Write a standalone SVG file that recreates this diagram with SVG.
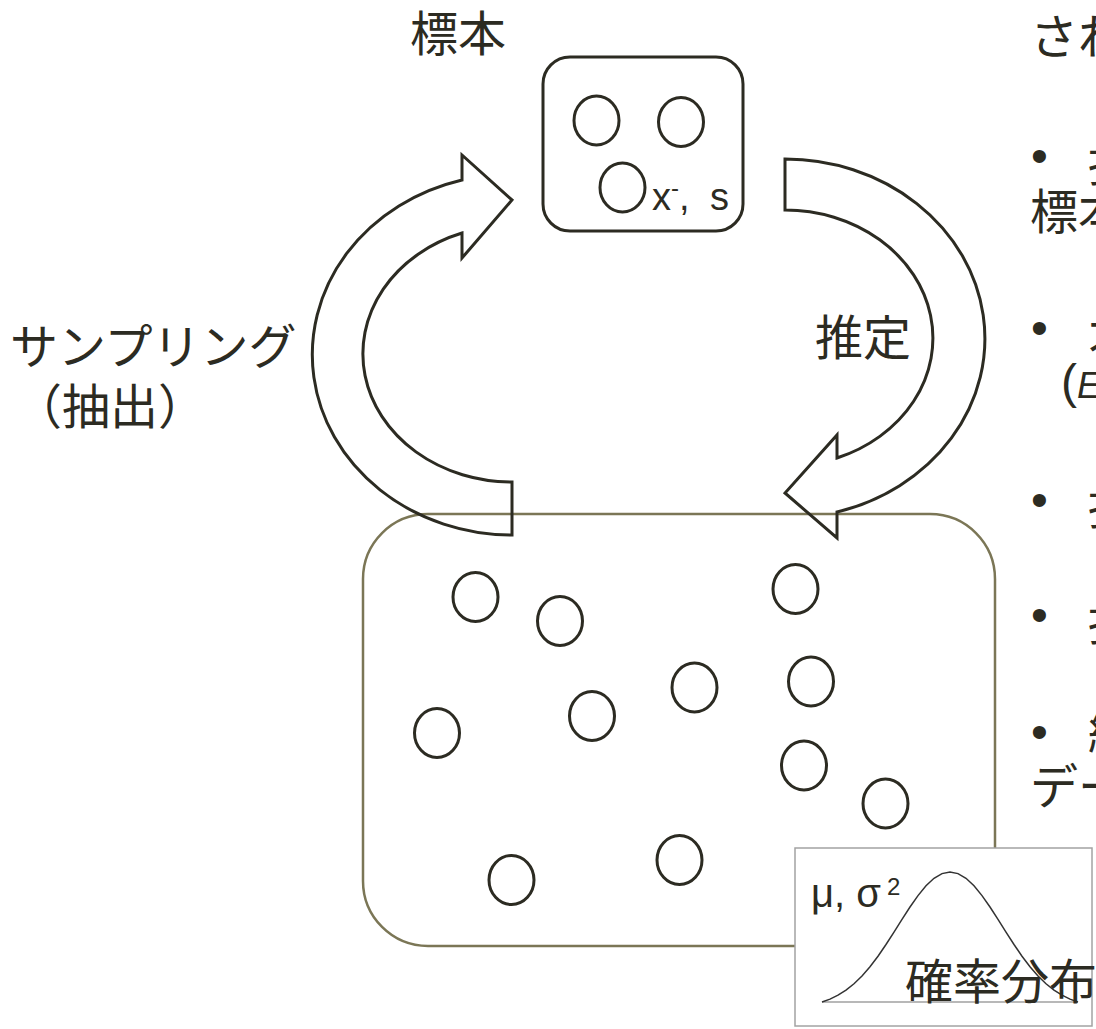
<svg xmlns="http://www.w3.org/2000/svg" width="1096" height="1029" viewBox="0 0 1096 1029">
<style>
.jp{font-family:"Noto Sans CJK JP","Noto Sans",sans-serif;font-size:48px;fill:#2c2b22}
.lat{font-family:"Liberation Sans","Noto Sans",sans-serif;fill:#2c2b22}
.dot{fill:none;stroke:#2c2b22;stroke-width:3}
.arrow{fill:none;stroke:#2c2b22;stroke-width:3;stroke-linejoin:miter}
</style>
<rect width="1096" height="1029" fill="#ffffff"/>

<g id="population">
  <rect x="363" y="514" width="632" height="432" rx="65" ry="65" fill="none" stroke="#7b7656" stroke-width="2.5"/>
  <ellipse class="dot" cx="475.5" cy="597" rx="22.5" ry="24.5"/>
  <ellipse class="dot" cx="560" cy="621" rx="22.5" ry="24.5"/>
  <ellipse class="dot" cx="795.5" cy="589" rx="22.5" ry="24.5"/>
  <ellipse class="dot" cx="694.5" cy="687.5" rx="22.5" ry="24.5"/>
  <ellipse class="dot" cx="811" cy="681.5" rx="22.5" ry="24.5"/>
  <ellipse class="dot" cx="437" cy="733" rx="22.5" ry="24.5"/>
  <ellipse class="dot" cx="592" cy="716" rx="22.5" ry="24.5"/>
  <ellipse class="dot" cx="804" cy="765.5" rx="22.5" ry="24.5"/>
  <ellipse class="dot" cx="885.5" cy="803.5" rx="22.5" ry="24.5"/>
  <ellipse class="dot" cx="511.5" cy="880" rx="22.5" ry="24.5"/>
  <ellipse class="dot" cx="679.5" cy="860" rx="22.5" ry="24.5"/>
</g>

<g id="sample">
  <text class="jp" x="410" y="51">標本</text>
  <rect x="543" y="57" width="200" height="174" rx="27" ry="27" fill="none" stroke="#2c2b22" stroke-width="3"/>
  <ellipse class="dot" cx="596.5" cy="120.5" rx="22.5" ry="24.5"/>
  <ellipse class="dot" cx="681" cy="122" rx="22.5" ry="24.5"/>
  <ellipse class="dot" cx="622.5" cy="187.5" rx="22.5" ry="24.5"/>
  <text class="lat" x="652" y="210" font-size="38">x<tspan font-size="24" dy="-14">-</tspan><tspan dy="14">,</tspan><tspan x="710">s</tspan></text>
</g>

<g id="connectors">
  <path id="arrow-sampling" class="arrow" d="M462,180 L462,155 L512,200 L462,258 L462,233 A149,128.2 0 0 0 512,482 L512,535 A200,180.4 0 0 1 462,180 Z"/>
  <path id="arrow-estimation" class="arrow" d="M785,159 A200,179.6 0 0 1 837,512 L837,538 L785,493 L837,435 L837,458 A148,128.1 0 0 0 785,210 Z"/>
  <text class="jp" x="10" y="364">サンプリング</text>
  <text class="jp" x="14" y="424">（抽出）</text>
  <text class="jp" x="815" y="355">推定</text>
</g>

<g id="distribution">
  <rect x="795" y="848" width="297" height="178" fill="#ffffff" stroke="#a3a3a3" stroke-width="1.5"/>
  <line x1="822" y1="1002" x2="1078" y2="1002" stroke="#b8b8b8" stroke-width="2"/>
  <path d="M822,1002 L830,999.1 L838,995.2 L846,990.1 L854,983.8 L862,976 L870,966.8 L878,956.2 L886,944.5 L894,932.1 L902,919.4 L910,907 L918,895.6 L926,885.8 L934,878.3 L942,873.6 L950,872 L958,873.6 L966,878.3 L974,885.8 L982,895.6 L990,907 L998,919.4 L1006,932.1 L1014,944.5 L1022,956.2 L1030,966.8 L1038,976 L1046,983.8 L1054,990.1 L1062,995.2 L1070,999.1 L1078,1002" fill="none" stroke="#333333" stroke-width="1.5"/>
  <text class="lat" x="811" y="907" font-size="40">μ, σ</text>
  <text class="lat" x="887" y="895" font-size="24">2</text>
  <text class="jp" x="905" y="999">確率分布</text>
</g>

<g id="side-text">
  <text class="jp" x="1030" y="54">され</text>
  <text class="lat" x="1031" y="172" font-size="48">•</text>
  <text class="jp" x="1088" y="181">推</text>
  <text class="jp" x="1030" y="229">標本</text>
  <text class="lat" x="1031" y="344" font-size="48">•</text>
  <text class="jp" x="1088" y="360">不</text>
  <text class="lat" x="1061" y="398" font-size="48">(<tspan font-style="italic" font-size="36">E</tspan></text>
  <text class="lat" x="1031" y="516" font-size="48">•</text>
  <text class="jp" x="1088" y="524">推</text>
  <text class="lat" x="1031" y="631" font-size="48">•</text>
  <text class="jp" x="1088" y="640">推</text>
  <text class="lat" x="1031" y="748" font-size="48">•</text>
  <text class="jp" x="1088" y="752">統</text>
  <text class="jp" x="1030" y="804">デー</text>
</g>
</svg>
